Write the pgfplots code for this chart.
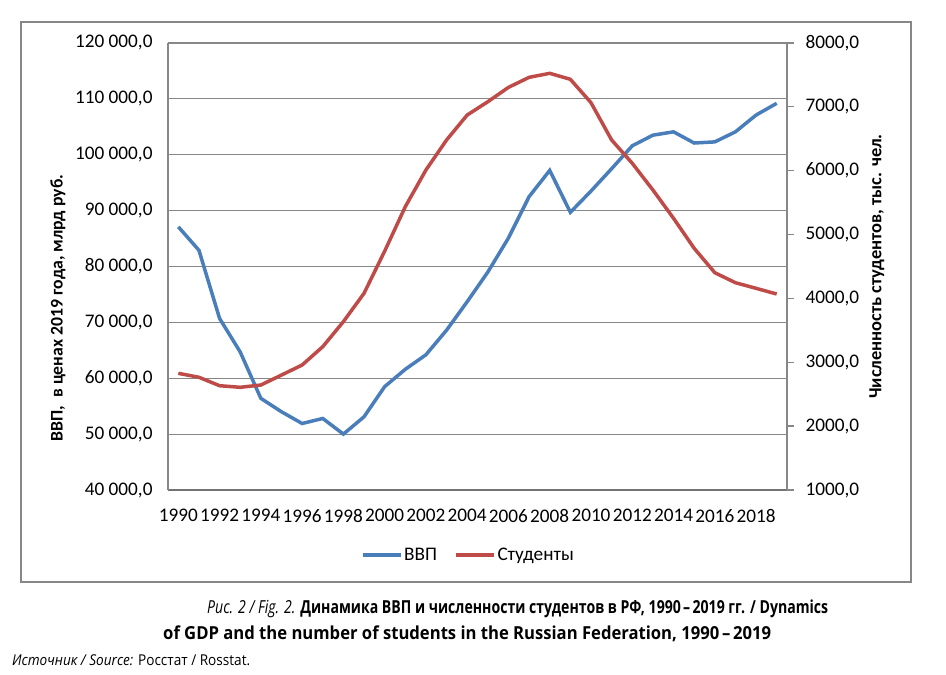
\documentclass[border=0pt]{standalone}
\usepackage{pgfplots}
\pgfplotsset{compat=1.18}
\usepackage{graphicx}
\usepackage{fontspec}
\setmainfont{Carlito}
\newfontfamily\capfont{Open Sans}

\definecolor{gdp}{HTML}{4A7EBB}
\definecolor{stud}{HTML}{BE4B48}
\definecolor{gridc}{HTML}{878787}

\pgfplotstableread{
year gdp
1990 87100
1991 82900
1992 70700
1993 64700
1994 56400
1995 54000
1996 51900
1997 52800
1998 50000
1999 53100
2000 58500
2001 61600
2002 64200
2003 68600
2004 73700
2005 79000
2006 85100
2007 92500
2008 97200
2009 89700
2010 93500
2011 97500
2012 101600
2013 103500
2014 104100
2015 102100
2016 102300
2017 104100
2018 107100
2019 109200
}\gdptable

\pgfplotstableread{
year stud
1990 2827
1991 2765
1992 2633
1993 2608
1994 2644
1995 2800
1996 2957
1997 3244
1998 3636
1999 4080
2000 4740
2001 5436
2002 6011
2003 6481
2004 6872
2005 7080
2006 7305
2007 7462
2008 7525
2009 7431
2010 7065
2011 6481
2012 6116
2013 5698
2014 5255
2015 4785
2016 4403
2017 4246
2018 4158
2019 4069
}\studtable

\pgfplotsset{
  common/.style={
    at={(168bp,185bp)}, anchor=south west,
    scale only axis, width=619bp, height=447bp,
    xmin=1989.5, xmax=2019.5,
    scaled y ticks=false,
    tick label style={font=\fontsize{19.3}{22}\selectfont, text=black},
    label style={font=\bfseries\fontsize{18.5}{22}\selectfont},
  },
}

\begin{document}
\begin{tikzpicture}[x=1bp,y=1bp]
\path[use as bounding box] (0,0) rectangle (946,675);
\draw[gridc, line width=1.3bp] (21,653) rectangle (911,93);

\begin{axis}[common,
  ymin=40000, ymax=120000,
  xtick={1990,1992,...,2018},
  xticklabels={1990,1992,1994,1996,1998,2000,2002,2004,2006,2008,2010,2012,2014,2016,2018},
  ytick={40000,50000,...,120000},
  yticklabels={{40 000,0},{50 000,0},{60 000,0},{70 000,0},{80 000,0},{90 000,0},{100 000,0},{110 000,0},{120 000,0}},
  axis x line*=bottom, axis y line*=left,
  x axis line style={gridc!85!black, line width=2bp, -},
  y axis line style={gridc, line width=1.3bp, -},
  major tick length=0pt,
  ymajorgrids, grid style={gridc, line width=1.2bp},
  xticklabel style={yshift=-16bp},
  yticklabel style={xshift=-12bp},
  ylabel={ВВП,\ \ в ценах 2019 года, млрд руб.},
  ylabel style={at={(axis description cs:-0.178,0.407)}, anchor=center,
    font=\bfseries\fontsize{17.8}{22}\selectfont},
  legend columns=2,
  legend style={draw=none, fill=none, at={(axis description cs:0.485,-0.145)}, anchor=center,
    font=\fontsize{19.3}{22}\selectfont, inner xsep=0pt,
    /tikz/every even column/.append style={column sep=16bp},
    /tikz/nodes={inner xsep=1.5bp}},
  legend image code/.code={\draw[#1] (0bp,0bp) -- (38bp,0bp);},
]
\addplot[gdp, line width=3.5bp] table[x=year, y=gdp] {\gdptable};
\addlegendentry{ВВП}
\addlegendimage{stud, line width=3.5bp}
\addlegendentry{Студенты}
\end{axis}

\begin{axis}[common,
  ymin=1000, ymax=8000,
  ytick={1000,2000,...,8000},
  yticklabels={{1000,0},{2000,0},{3000,0},{4000,0},{5000,0},{6000,0},{7000,0},{8000,0}},
  axis y line*=right, axis x line=none,
  y axis line style={gridc, line width=1.7bp, -},
  ytick style={gridc, line width=1.3bp},
  major tick length=7bp, tick align=outside,
  yticklabel style={xshift=8bp},
  ylabel={Численность студентов, тыс. чел.},
  ylabel style={at={(axis description cs:1.145,0.5)}, anchor=center},
]
\addplot[stud, line width=3.5bp] table[x=year, y=stud] {\studtable};
\end{axis}

\node[anchor=west, font=\capfont\fontsize{18}{21}\selectfont, inner sep=0] at (207,66)
  {\resizebox{621bp}{\height}{{\itshape Рис. 2 / Fig. 2.} \bfseries Динамика ВВП и численности студентов в РФ, 1990\,–\,2019 гг. / Dynamics}};
\node[anchor=west, font=\capfont\bfseries\fontsize{18}{21}\selectfont, inner sep=0] at (163,41)
  {\resizebox{608bp}{\height}{of GDP and the number of students in the Russian Federation, 1990\,–\,2019}};
\node[anchor=west, font=\capfont\fontsize{15}{18}\selectfont, inner sep=0] at (12,15)
  {\resizebox{238bp}{\height}{{\itshape Источник / Source:} Росстат / Rosstat.}};
\end{tikzpicture}
\end{document}
